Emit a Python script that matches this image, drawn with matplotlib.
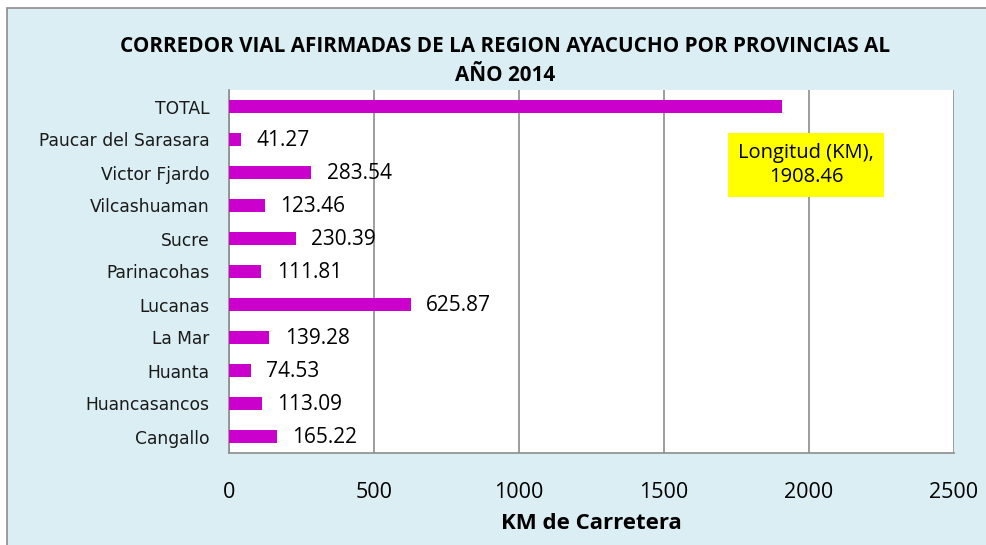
import matplotlib
matplotlib.use("Agg")
import matplotlib.pyplot as plt
from matplotlib.patches import Rectangle
from matplotlib import font_manager as fm

categories = ["Cangallo", "Huancasancos", "Huanta", "La Mar", "Lucanas",
              "Parinacohas", "Sucre", "Vilcashuaman", "Victor Fjardo",
              "Paucar del Sarasara", "TOTAL"]
values = [165.22, 113.09, 74.53, 139.28, 625.87, 111.81, 230.39, 123.46,
          283.54, 41.27, 1908.46]
value_labels = ["165.22", "113.09", "74.53", "139.28", "625.87", "111.81",
                "230.39", "123.46", "283.54", "41.27", ""]
xticks = [0, 500, 1000, 1500, 2000, 2500]
title = "CORREDOR VIAL AFIRMADAS DE LA REGION AYACUCHO POR PROVINCIAS AL\nAÑO 2014"
xlabel = "KM de Carretera"
callout = "Longitud (KM),\n1908.46"

names = {f.name for f in fm.fontManager.ttflist}
narrow = "Liberation Sans Narrow" if "Liberation Sans Narrow" in names else "DejaVu Sans Condensed"
main = "Open Sans"

W, H = 987, 545
fig = plt.figure(figsize=(W / 100, H / 100), dpi=100, facecolor="white")
bg = Rectangle((7 / W, -0.01), 1.0, (545 - 8) / H + 0.01, transform=fig.transFigure,
               facecolor="#DAEEF3", edgecolor="#8C8C8C", linewidth=1.2, zorder=-10)
fig.patches.append(bg)

ax = fig.add_axes([229 / W, 1 - 453 / H, (954 - 229) / W, (453 - 90) / H])
ax.set_zorder(1)
ax.set_facecolor("white")
y = list(range(len(categories)))
ax.barh(y, values, height=0.42, color="#CC00CC", zorder=3)
ax.set_xlim(0, 2500)
ax.set_ylim(-0.5, len(categories) - 0.5)
ax.set_xticks(xticks)
ax.set_xticklabels([str(t) for t in xticks], fontfamily=main, fontsize=15.5)
ax.tick_params(axis="x", length=0, pad=21)
ax.tick_params(axis="y", length=0, pad=14)
ax.set_yticks(y)
ax.set_yticklabels(categories, fontfamily=narrow, fontsize=12.3, color="#1a1a1a")
ax.grid(axis="x", color="#8C8C8C", linewidth=1.2, zorder=0)
for s in ["top", "right"]:
    ax.spines[s].set_visible(False)
for s in ["left", "bottom"]:
    ax.spines[s].set_color("#8C8C8C")
    ax.spines[s].set_linewidth(1.2)

for yi, v, lab in zip(y, values, value_labels):
    if lab:
        ax.annotate(lab, (v, yi), xytext=(11, -1), textcoords="offset points",
                    va="center", ha="left", fontfamily=main, fontsize=15)

ax.text(1990, 8.23, callout, ha="center", va="center", fontfamily=main,
        fontsize=14.5, linespacing=1.22,
        bbox=dict(boxstyle="square,pad=0.5", facecolor="#FFFF00", edgecolor="none"),
        zorder=5)

ax.set_xlabel(xlabel, fontfamily=main, fontsize=16, fontweight="bold", labelpad=7)
fig.text(505 / W, 1 - 61 / H, title, ha="center", va="center", fontfamily=main,
         fontsize=14.9, fontweight="bold", linespacing=1.45)

fig.savefig("out.png", dpi=100, facecolor="white")
